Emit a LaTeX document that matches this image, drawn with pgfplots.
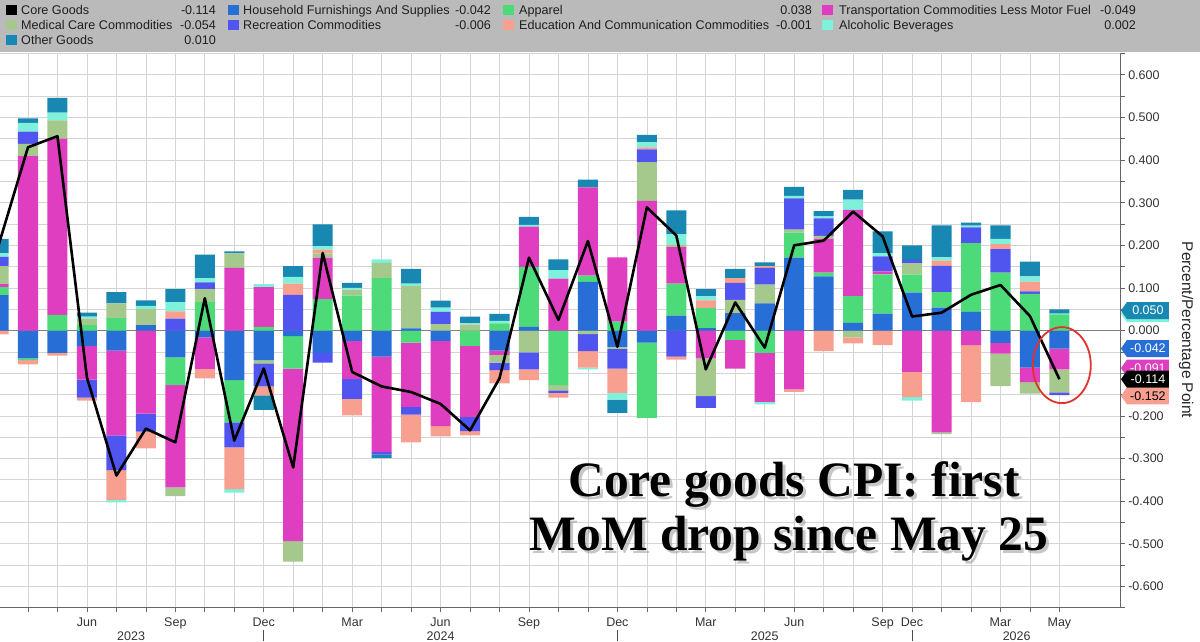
\documentclass[border=0pt]{standalone}
\usepackage{fontspec}
\setmainfont{Liberation Sans}
\newfontfamily\titleserif{Liberation Serif}
\usepackage{pgfplots}
\usepackage{pgfplotstable}
\pgfplotsset{compat=1.18}
\usetikzlibrary{shapes.symbols}

\definecolor{cHF}{RGB}{40,110,215}
\definecolor{cApp}{RGB}{77,219,122}
\definecolor{cTra}{RGB}{224,62,192}
\definecolor{cMed}{RGB}{165,201,141}
\definecolor{cRec}{RGB}{80,85,240}
\definecolor{cEdu}{RGB}{248,160,144}
\definecolor{cAlc}{RGB}{127,240,218}
\definecolor{cOth}{RGB}{24,135,178}
\definecolor{legbg}{RGB}{186,186,186}
\definecolor{gridc}{RGB}{212,212,212}
\definecolor{ringred}{RGB}{225,50,45}

\pgfplotstableread{
i HF App Tra Med Rec Edu Alc Oth Core
0 0.083 0.019 0.007 0.042 0.022 -0.009 0.008 0.034 0.200
1 -0.065 -0.004 0.409 0.029 0.029 -0.010 0.020 0.011 0.430
2 -0.052 0.037 0.413 0.043 0.000 -0.007 0.018 0.035 0.456
3 -0.036 0.013 -0.079 0.015 -0.042 -0.007 0.005 0.009 -0.110
4 -0.047 0.029 -0.199 0.035 -0.081 -0.070 -0.006 0.026 -0.340
5 0.013 0.000 -0.195 0.038 -0.042 -0.039 0.007 0.013 -0.230
6 -0.063 -0.065 -0.240 -0.020 0.028 0.017 0.022 0.030 -0.262
7 -0.016 0.067 -0.074 0.030 0.016 -0.022 0.010 0.055 0.076
8 -0.116 -0.099 0.147 0.034 -0.059 -0.098 -0.008 0.005 -0.258
9 -0.069 0.009 0.093 -0.008 -0.054 -0.021 0.007 -0.034 -0.089
10 -0.013 -0.076 -0.405 -0.048 0.084 0.026 0.016 0.025 -0.321
11 -0.053 0.074 0.097 0.010 -0.022 0.009 0.008 0.051 0.182
12 -0.024 0.082 -0.090 0.014 -0.046 -0.039 0.004 0.012 -0.097
13 -0.061 0.123 -0.224 0.036 -0.006 0.000 0.008 -0.008 -0.131
14 0.005 -0.028 -0.151 0.100 -0.018 -0.065 0.005 0.035 -0.144
15 -0.024 0.000 -0.200 0.015 0.029 -0.024 0.010 0.016 -0.172
16 0.000 -0.036 -0.167 0.014 -0.033 -0.010 0.003 0.016 -0.234
17 -0.047 0.017 -0.010 -0.018 -0.018 -0.031 0.006 0.016 -0.112
18 0.009 0.140 0.095 -0.051 -0.040 -0.025 0.004 0.019 0.171
19 0.000 -0.128 0.122 -0.012 -0.006 -0.011 0.020 0.025 0.025
20 0.114 0.015 0.207 -0.008 -0.040 -0.039 -0.004 0.018 0.210
21 -0.038 0.021 0.151 -0.005 -0.046 -0.057 -0.016 -0.031 -0.038
22 -0.028 -0.177 0.304 0.091 0.030 0.005 0.012 0.017 0.289
23 0.035 0.075 0.086 0.006 -0.061 -0.007 0.024 0.056 0.223
24 0.006 0.047 -0.065 -0.089 -0.027 0.018 0.009 0.017 -0.091
25 0.041 -0.022 -0.067 0.031 0.040 0.011 0.000 0.022 0.066
26 0.064 -0.052 -0.115 0.044 0.039 0.004 -0.006 0.009 -0.040
27 0.171 0.059 -0.138 0.007 0.073 -0.006 0.006 0.021 0.200
28 0.127 0.009 0.080 0.006 0.041 -0.048 0.005 0.012 0.211
29 0.018 0.063 0.202 -0.016 0.000 -0.014 0.024 0.023 0.279
30 0.040 0.092 0.007 0.000 0.035 -0.034 0.008 0.051 0.221
31 0.089 0.042 -0.097 0.027 0.008 -0.059 -0.008 0.034 0.033
32 0.054 0.036 -0.239 -0.004 0.062 0.012 0.008 0.075 0.042
33 0.044 0.161 -0.034 0.000 0.037 -0.134 0.004 0.007 0.084
34 -0.029 0.136 -0.025 -0.076 0.055 0.012 0.012 0.032 0.107
35 -0.087 0.086 -0.034 -0.027 0.006 0.023 0.012 0.035 0.034
36 -0.042 0.038 -0.049 -0.054 -0.006 -0.001 0.002 0.010 -0.114
}\datatable

\pgfplotsset{
  frame/.style={
    at={(0pt,33.3pt)}, anchor=south west,
    width=1120.7pt, height=554.2pt, scale only axis,
    xmin=0.05, xmax=38.08, ymin=-0.65, ymax=0.65,
  },
  stk/.style={ybar stacked, bar width=0.68},
}
\tikzset{
  tag/.style={signal, signal to=west, signal pointer angle=110, anchor=west,
    minimum height=17pt, minimum width=48pt, inner xsep=3pt, inner ysep=1pt,
    font=\fontsize{12.5}{14}\selectfont},
  legtxt/.style={inner sep=0pt, font=\fontsize{12.6}{14}\selectfont, text=black!88},
  yearlab/.style={font=\fontsize{12.5}{14}\selectfont, text=black!80},
  bigtxt/.style={anchor=base, font=\titleserif\bfseries\fontsize{49.5}{54}\selectfont},
}

\begin{document}
\begin{tikzpicture}
\path[use as bounding box, clip] (0pt,0pt) rectangle (1200pt,641pt);
\fill[white] (0pt,0pt) rectangle (1200pt,641pt);

% ---------- axis 1: grid, ticks, negative parts ----------
\begin{axis}[frame, stk,
  axis x line*=bottom, axis y line*=right,
  axis line style={-, black!60, line width=0.8pt},
  every outer x axis line/.append style={-},
  every outer y axis line/.append style={-},
  xtick={0,...,36},
  xticklabels={,,,Jun,,,Sep,,,Dec,,,Mar,,,Jun,,,Sep,,,Dec,,,Mar,,,Jun,,,Sep,Dec,,,Mar,,May},
  ytick={-0.6,-0.5,-0.4,-0.3,-0.2,-0.1,0,0.1,0.2,0.3,0.4,0.5,0.6},
  minor ytick={-0.65,-0.55,-0.45,-0.35,-0.25,-0.15,-0.05,0.05,0.15,0.25,0.35,0.45,0.55,0.65},
  scaled y ticks=false,
  xmajorgrids, ymajorgrids, yminorgrids,
  major grid style={gridc, line width=0.7pt},
  minor grid style={gridc, line width=0.7pt},
  tick align=outside,
  major tick length=4pt, minor tick length=4pt,
  tick style={black!60, line width=0.7pt},
  yticklabel style={font=\fontsize{12.5}{14}\selectfont, text=black!80},
  xticklabel style={font=\fontsize{12.5}{14}\selectfont, text=black!80, yshift=-2.5pt},
  /pgf/number format/fixed,
  /pgf/number format/fixed zerofill,
  /pgf/number format/precision=3,
  /pgf/number format/assume math mode=true,
  extra y ticks={0}, extra y tick labels={},
  extra y tick style={grid=major, major grid style={black!50, line width=1pt}},
]
\addplot[fill=cHF, draw=none] table[x=i, y expr={min(\thisrow{HF},0)}] {\datatable};
\addplot[fill=cApp, draw=none] table[x=i, y expr={min(\thisrow{App},0)}] {\datatable};
\addplot[fill=cTra, draw=none] table[x=i, y expr={min(\thisrow{Tra},0)}] {\datatable};
\addplot[fill=cMed, draw=none] table[x=i, y expr={min(\thisrow{Med},0)}] {\datatable};
\addplot[fill=cRec, draw=none] table[x=i, y expr={min(\thisrow{Rec},0)}] {\datatable};
\addplot[fill=cEdu, draw=none] table[x=i, y expr={min(\thisrow{Edu},0)}] {\datatable};
\addplot[fill=cAlc, draw=none] table[x=i, y expr={min(\thisrow{Alc},0)}] {\datatable};
\addplot[fill=cOth, draw=none] table[x=i, y expr={min(\thisrow{Oth},0)}] {\datatable};
\end{axis}

% ---------- axis 2: positive parts ----------
\begin{axis}[frame, stk, hide axis]
\addplot[fill=cHF, draw=none] table[x=i, y expr={max(\thisrow{HF},0)}] {\datatable};
\addplot[fill=cApp, draw=none] table[x=i, y expr={max(\thisrow{App},0)}] {\datatable};
\addplot[fill=cTra, draw=none] table[x=i, y expr={max(\thisrow{Tra},0)}] {\datatable};
\addplot[fill=cMed, draw=none] table[x=i, y expr={max(\thisrow{Med},0)}] {\datatable};
\addplot[fill=cRec, draw=none] table[x=i, y expr={max(\thisrow{Rec},0)}] {\datatable};
\addplot[fill=cEdu, draw=none] table[x=i, y expr={max(\thisrow{Edu},0)}] {\datatable};
\addplot[fill=cAlc, draw=none] table[x=i, y expr={max(\thisrow{Alc},0)}] {\datatable};
\addplot[fill=cOth, draw=none] table[x=i, y expr={max(\thisrow{Oth},0)}] {\datatable};
\end{axis}

% ---------- axis 3: core goods line and annotations ----------
\begin{axis}[frame, hide axis, clip mode=individual]
\addplot[black, line width=2.6pt, line join=round, no marks] table[x=i, y=Core] {\datatable};

% value tags on the right
\node[tag, fill=cAlc, text=black] at (axis cs:38.08,0.040) {0.040};
\node[tag, fill=cOth, text=white] at (axis cs:38.08,0.047) {0.050};
\node[tag, fill=cTra, text=white] at (axis cs:38.08,-0.088) {-0.091};
\node[tag, fill=cHF, text=white] at (axis cs:38.08,-0.042) {-0.042};
\node[tag, fill=cEdu, text=black] at (axis cs:38.08,-0.153) {-0.152};
\node[tag, fill=black, text=white] at (axis cs:38.08,-0.114) {-0.114};

% red ring
\draw[ringred, line width=1.8pt] (axis cs:36.08,-0.081) ellipse [x radius=29pt, y radius=38pt];

% years and separators
\node[yearlab] at ([yshift=-28pt]axis cs:4.5,-0.65) {2023};
\node[yearlab] at ([yshift=-28pt]axis cs:15,-0.65) {2024};
\node[yearlab] at ([yshift=-28pt]axis cs:26,-0.65) {2025};
\node[yearlab] at ([yshift=-28pt]axis cs:34.55,-0.65) {2026};
\draw[black!70, line width=0.8pt] ([yshift=-22pt]axis cs:9,-0.65) -- ([yshift=-33pt]axis cs:9,-0.65);
\draw[black!70, line width=0.8pt] ([yshift=-22pt]axis cs:21,-0.65) -- ([yshift=-33pt]axis cs:21,-0.65);
\draw[black!70, line width=0.8pt] ([yshift=-22pt]axis cs:31,-0.65) -- ([yshift=-33pt]axis cs:31,-0.65);
\end{axis}

% axis title on the right
\node[rotate=-90, font=\fontsize{15.5}{17}\selectfont, text=black!85] at (1186pt,311pt) {Percent/Percentage Point};

% big annotation with shadow
\node[bigtxt, text=black!40, opacity=0.55] at (797pt,142pt) {Core goods CPI: first};
\node[bigtxt, text=black!40, opacity=0.55] at (792pt,88pt) {MoM drop since May 25};
\node[bigtxt, text=black] at (794pt,145pt) {Core goods CPI: first};
\node[bigtxt, text=black] at (789pt,91pt) {MoM drop since May 25};

% ---------- legend band ----------
\fill[legbg] (0pt,588.6pt) rectangle (1200pt,641pt);
% row 1
\fill[black] (6pt,625.5pt) rectangle ++(11pt,10pt);
\node[legtxt, anchor=base west] at (21pt,626pt) {Core Goods};
\node[legtxt, anchor=base east] at (216pt,626pt) {-0.114};
\fill[cHF] (228pt,625.5pt) rectangle ++(11pt,10pt);
\node[legtxt, anchor=base west] at (243pt,626pt) {Household Furnishings And Supplies};
\node[legtxt, anchor=base east] at (491pt,626pt) {-0.042};
\fill[cApp] (503pt,625.5pt) rectangle ++(11pt,10pt);
\node[legtxt, anchor=base west] at (519pt,626pt) {Apparel};
\node[legtxt, anchor=base east] at (812pt,626pt) {0.038};
\fill[cTra] (822pt,625.5pt) rectangle ++(11pt,10pt);
\node[legtxt, anchor=base west] at (839pt,626pt) {Transportation Commodities Less Motor Fuel};
\node[legtxt, anchor=base east] at (1136pt,626pt) {-0.049};
% row 2
\fill[cMed] (6pt,611pt) rectangle ++(11pt,10pt);
\node[legtxt, anchor=base west] at (21pt,611.5pt) {Medical Care Commodities};
\node[legtxt, anchor=base east] at (216pt,611.5pt) {-0.054};
\fill[cRec] (228pt,611pt) rectangle ++(11pt,10pt);
\node[legtxt, anchor=base west] at (243pt,611.5pt) {Recreation Commodities};
\node[legtxt, anchor=base east] at (491pt,611.5pt) {-0.006};
\fill[cEdu] (503pt,611pt) rectangle ++(11pt,10pt);
\node[legtxt, anchor=base west] at (519pt,611.5pt) {Education And Communication Commodities};
\node[legtxt, anchor=base east] at (812pt,611.5pt) {-0.001};
\fill[cAlc] (822pt,611pt) rectangle ++(11pt,10pt);
\node[legtxt, anchor=base west] at (839pt,611.5pt) {Alcoholic Beverages};
\node[legtxt, anchor=base east] at (1136pt,611.5pt) {0.002};
% row 3
\fill[cOth] (6pt,596pt) rectangle ++(11pt,10pt);
\node[legtxt, anchor=base west] at (21pt,596.5pt) {Other Goods};
\node[legtxt, anchor=base east] at (216pt,596.5pt) {0.010};
\end{tikzpicture}
\end{document}
